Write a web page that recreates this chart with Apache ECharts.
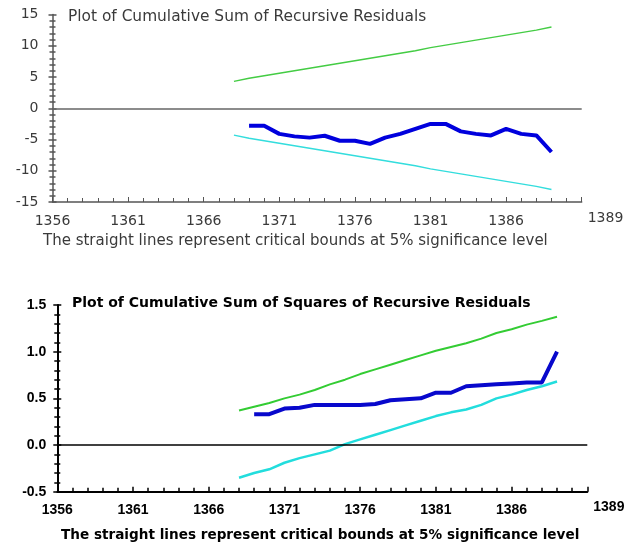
<!DOCTYPE html>
<html><head><meta charset="utf-8">
<script src="https://cdn.jsdelivr.net/npm/echarts@6/dist/echarts.min.js"></script>
<style>html,body{margin:0;padding:0;background:#fff}#c{width:636px;height:548px}</style>
</head><body><div id="c"></div>
<script>
// ---- data ----
const boundYears = [1368,1369,1370,1371,1372,1373,1374,1375,1376,1377,1378,1379,1380,1381,1382,1383,1384,1385,1386,1387,1388,1389];
const statYears  = [1369,1370,1371,1372,1373,1374,1375,1376,1377,1378,1379,1380,1381,1382,1383,1384,1385,1386,1387,1388,1389];
// CUSUM
const cusum      = [-2.8,-2.8,-4.1,-4.5,-4.7,-4.4,-5.2,-5.2,-5.7,-4.7,-4.1,-3.3,-2.5,-2.5,-3.7,-4.1,-4.35,-3.3,-4.1,-4.35,-7.0];
const cusumUpper = [4.3,4.8,5.2,5.6,6.0,6.4,6.8,7.2,7.6,8.0,8.4,8.8,9.2,9.7,10.1,10.5,10.9,11.3,11.7,12.1,12.5,13.0];
const cusumLower = [-4.3,-4.8,-5.2,-5.6,-6.0,-6.4,-6.8,-7.2,-7.6,-8.0,-8.4,-8.8,-9.2,-9.7,-10.1,-10.5,-10.9,-11.3,-11.7,-12.1,-12.5,-13.0];
// CUSUM of squares
const cusumsq      = [0.33,0.33,0.39,0.40,0.43,0.43,0.43,0.43,0.44,0.48,0.49,0.50,0.56,0.56,0.63,0.64,0.65,0.66,0.67,0.67,1.0];
const cusumsqUpper = [0.37,0.41,0.45,0.50,0.54,0.59,0.65,0.70,0.76,0.81,0.86,0.91,0.96,1.01,1.05,1.09,1.14,1.20,1.24,1.29,1.33,1.375];
const cusumsqLower = [-0.35,-0.30,-0.26,-0.19,-0.14,-0.10,-0.06,0.01,0.06,0.11,0.16,0.21,0.26,0.31,0.35,0.38,0.43,0.50,0.54,0.59,0.63,0.68];
// text
const title1 = 'Plot of Cumulative Sum of Recursive Residuals';
const title2 = 'Plot of Cumulative Sum of Squares of Recursive Residuals';
const note = 'The straight lines represent critical bounds at 5% significance level';
const lastYearLabel = '1389';

const pair = (xs, ys) => xs.map((x, i) => [x, ys[i]]);

const chart = echarts.init(document.getElementById('c'), null, {renderer: 'canvas'});

const topColor = '#555';
const topText = '#3a3a3a';
const botText = '#000';
const fontTop = 'DejaVu Sans';
const fontBot = 'Liberation Sans';

function xAxisCfg(grid, color, width, textColor, font, fs, fw, margin, namePad) {
  return [{
    type: 'value', gridIndex: grid, position: 'bottom', min: 1356, max: 1391, interval: 5,
    axisLine: {show: true, onZero: false, lineStyle: {color: color, width: width}},
    axisTick: {show: true, inside: true, length: 5, lineStyle: {color: color, width: width > 1.5 ? 1.5 : 1}},
    minorTick: {show: true, splitNumber: 5, length: 4, lineStyle: {color: color, width: width > 1.5 ? 1.5 : 1}},
    splitLine: {show: false},
    axisLabel: {show: true, margin: margin, showMaxLabel: false, color: textColor, fontFamily: font, fontSize: fs, fontWeight: fw, formatter: v => String(v)},
    name: lastYearLabel, nameLocation: 'end', nameGap: 6,
    nameTextStyle: {color: textColor, fontFamily: font, fontSize: fs, fontWeight: fw, verticalAlign: 'top', align: 'left', padding: [namePad, 0, 0, 0]}
  }];
}

function yAxisCfg(grid, min, max, interval, minorSplit, color, width, textColor, font, fs, fw, fmt, margin) {
  return [{
    type: 'value', gridIndex: grid, position: 'left', min: min, max: max, interval: interval,
    axisLine: {show: true, onZero: false, lineStyle: {color: color, width: width}},
    axisTick: {show: true, inside: false, length: 4, lineStyle: {color: color, width: 1.5}},
    minorTick: {show: true, splitNumber: minorSplit, length: 3, lineStyle: {color: color, width: 1.5}},
    splitLine: {show: false},
    axisLabel: {show: true, margin: margin, color: textColor, fontFamily: font, fontSize: fs, fontWeight: fw, formatter: fmt}
  }, {
    type: 'value', gridIndex: grid, position: 'left', offset: 0, min: min, max: max, interval: interval,
    axisLine: {show: false, onZero: false},
    axisTick: {show: true, inside: true, length: 4, lineStyle: {color: color, width: 1.5}},
    minorTick: {show: true, splitNumber: minorSplit, length: 3, lineStyle: {color: color, width: 1.5}},
    splitLine: {show: false},
    axisLabel: {show: false}
  }];
}

const xAxes = [].concat(
  xAxisCfg(0, topColor, 1.5, topText, fontTop, 14, 'normal', 12, 9),
  xAxisCfg(1, '#000', 2, botText, fontBot, 14, 'bold', 11, 8)
);
const yAxes = [].concat(
  yAxisCfg(0, -15, 15, 5, 5, topColor, 1.5, topText, fontTop, 14, 'normal', v => String(v), 14),
  yAxisCfg(1, -0.5, 1.5, 0.5, 5, '#000', 2, botText, fontBot, 14, 'bold', v => v.toFixed(1), 11)
);

function line(name, xi, yi, data, color, width) {
  return {
    name: name, type: 'line', xAxisIndex: xi, yAxisIndex: yi, data: data,
    showSymbol: false, symbol: 'none', smooth: false, animation: false,
    lineStyle: {color: color, width: width}, z: 3
  };
}

const series = [
  line('upper1', 0, 0, pair(boundYears, cusumUpper), '#44cc44', 1.5),
  line('lower1', 0, 0, pair(boundYears, cusumLower), '#33dddd', 1.5),
  line('CUSUM', 0, 0, pair(statYears, cusum), '#0000dd', 4),
  line('upper2', 1, 2, pair(boundYears, cusumsqUpper), '#33cc33', 2),
  line('lower2', 1, 2, pair(boundYears, cusumsqLower), '#22dddd', 2.5),
  line('CUSUMSQ', 1, 2, pair(statYears, cusumsq), '#0808cc', 4)
];
series[0].markLine = {silent: true, symbol: 'none', label: {show: false}, animation: false,
  lineStyle: {color: '#666', width: 1.5, type: 'solid'}, data: [{yAxis: 0}]};
series[3].markLine = {silent: true, symbol: 'none', label: {show: false}, animation: false,
  lineStyle: {color: '#000', width: 1.5, type: 'solid'}, data: [{yAxis: 0}]};

chart.setOption({
  animation: false,
  backgroundColor: '#fff',
  grid: [
    {left: 52.5, right: 54.3, top: 14.5, height: 187.5, containLabel: false},
    {left: 57.3, right: 48.7, top: 305, height: 186.7, containLabel: false}
  ],
  xAxis: xAxes,
  yAxis: yAxes,
  title: [
    {text: title1, left: 68, top: 9, padding: 0, textStyle: {color: topText, fontFamily: fontTop, fontSize: 15.4, fontWeight: 'normal'}},
    {text: note, left: 43, top: 234, padding: 0, textStyle: {color: topText, fontFamily: fontTop, fontSize: 15, fontWeight: 'normal'}},
    {text: title2, left: 72, top: 296, padding: 0, textStyle: {color: botText, fontFamily: 'DejaVu Sans', fontSize: 14, fontWeight: 'bold'}},
    {text: note, left: 61, top: 528, padding: 0, textStyle: {color: botText, fontFamily: 'DejaVu Sans', fontSize: 13.6, fontWeight: 'bold'}}
  ],
  series: series
});
</script></body></html>
